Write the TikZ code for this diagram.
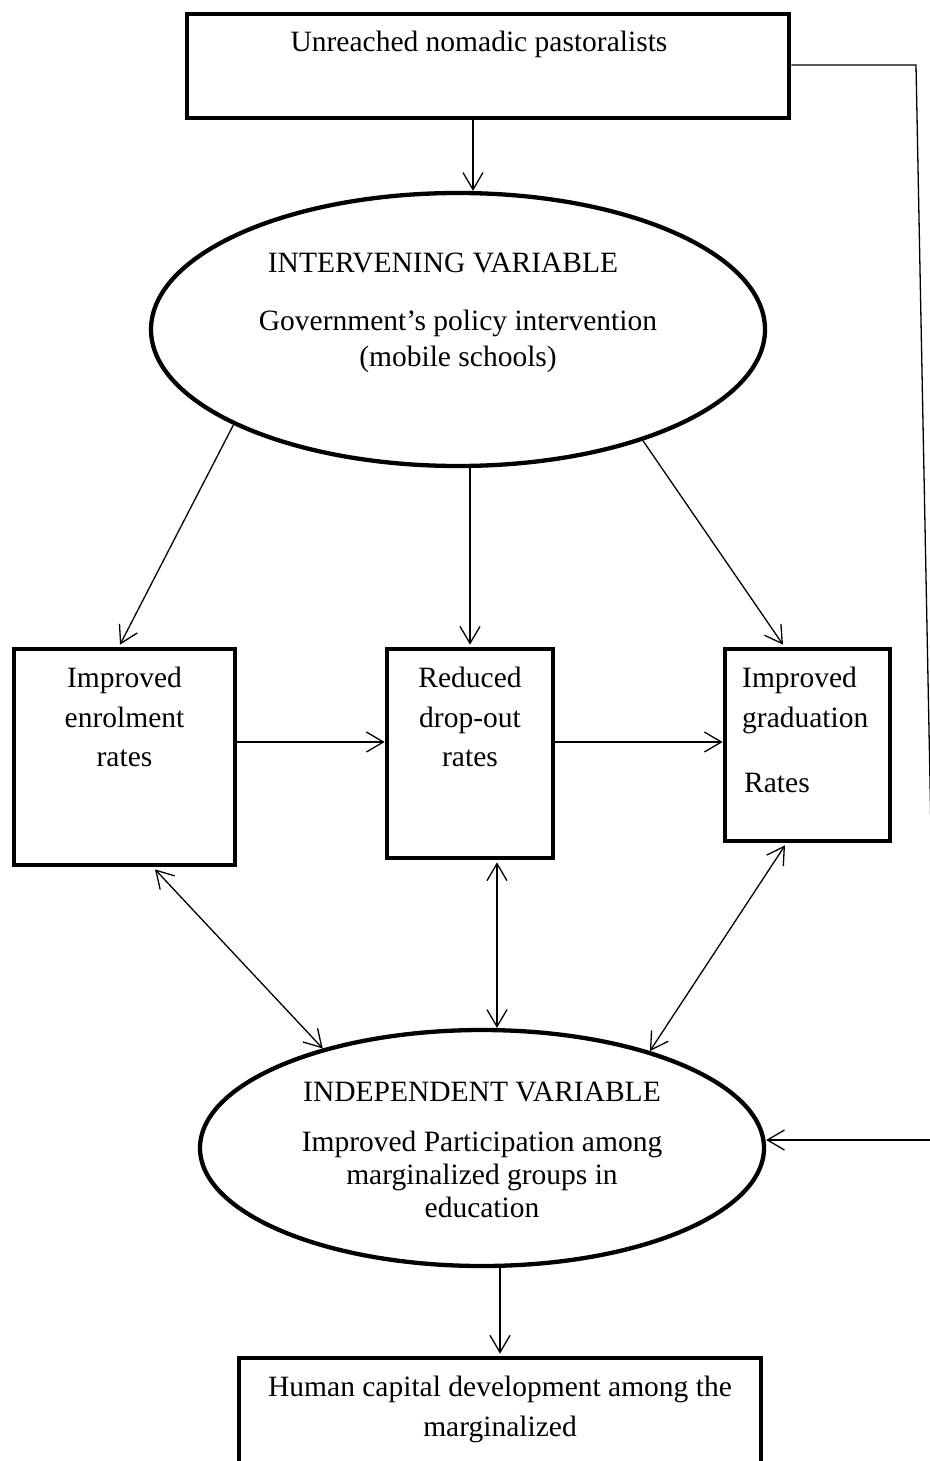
\documentclass[tikz,border=0pt]{standalone}
\usepackage{fontspec}
\setmainfont{Liberation Serif}
\usetikzlibrary{arrows.meta,shapes.geometric}
\begin{document}
\begin{tikzpicture}[x=1pt,y=-1pt,
  boxnode/.style={draw,line width=4.7pt,inner sep=0pt,rectangle},
  ellnode/.style={draw,line width=4.3pt,inner sep=0pt,ellipse},
  txt/.style={inner sep=0pt,anchor=base,font=\fontsize{29.5}{39}\selectfont},
  txtl/.style={txt,anchor=base west},
  arr/.style={line width=1.3pt,-{Straight Barb[length=17pt,width=20pt]}},
  darr/.style={line width=1.3pt,{Straight Barb[length=17pt,width=20pt]}-{Straight Barb[length=17pt,width=20pt]}},
  plain/.style={line width=1.3pt}]
\useasboundingbox (0,0) rectangle (929,1461);
% boxes and ellipses
\node[boxnode,minimum width=602pt,minimum height=104pt] (top) at (488,66) {};
\node[ellnode,minimum width=614pt,minimum height=273pt] (e1) at (458,329.5) {};
\node[boxnode,minimum width=221pt,minimum height=216pt] (b1) at (124.5,757) {};
\node[boxnode,minimum width=166pt,minimum height=209pt] (b2) at (470,753.5) {};
\node[boxnode,minimum width=165pt,minimum height=192pt] (b3) at (807.5,745) {};
\node[ellnode,minimum width=564pt,minimum height=236pt] (e2) at (482,1148) {};
\node[boxnode,minimum width=522pt,minimum height=122pt] (bot) at (500,1419) {};
% texts
\node[txt] (t0) at (479,52) {Unreached nomadic pastoralists};
\node[txt] (t1) at (443,272) {INTERVENING VARIABLE};
\node[txt] (t2) at (458,330) {Government’s policy intervention};
\node[txt] (t3) at (458,366) {(mobile schools)};
\node[txt] (t4) at (124.5,687) {Improved};
\node[txt] (t5) at (124.5,727) {enrolment};
\node[txt] (t6) at (124.5,766) {rates};
\node[txt] (t7) at (470,687) {Reduced};
\node[txt] (t8) at (470,727) {drop-out};
\node[txt] (t9) at (470,766) {rates};
\node[txtl] (t10) at (742,687) {Improved};
\node[txtl] (t11) at (742,727) {graduation};
\node[txtl] (t12) at (744,792) {Rates};
\node[txt] (t13) at (482,1101) {INDEPENDENT VARIABLE};
\node[txt] (t14) at (482,1151) {Improved Participation among};
\node[txt] (t15) at (482,1184) {marginalized groups in};
\node[txt] (t16) at (482,1217) {education};
\node[txt] (t17) at (500,1396) {Human capital development among the};
\node[txt] (t18) at (500,1436) {marginalized};
% connectors
\draw[arr] ([xshift=-15pt]top.south) -- ([xshift=15pt]e1.north);
\draw[arr] (e1.203) -- ([xshift=-4.5pt,yshift=2pt]b1.north);
\draw[arr] ([xshift=12pt]e1.south) -- ([yshift=2pt]b2.north);
\draw[arr] (e1.329) -- ([xshift=-24.5pt,yshift=2pt]b3.north);
\draw[arr] ([yshift=15pt]b1.east) -- ([yshift=15pt]b1.east -| b2.west);
\draw[arr] ([yshift=11.5pt]b2.east) -- ([yshift=11.5pt]b2.east -| b3.west);
\draw[darr] ([xshift=30.5pt,yshift=-2pt]b1.south) -- (e2.148);
\draw[darr] ([xshift=27pt,yshift=-2pt]b2.south) -- ([xshift=15pt]e2.north);
\draw[darr] ([xshift=-22.5pt,yshift=-2pt]b3.south) -- (e2.30);
\draw[arr] ([xshift=18pt]e2.south) -- ([yshift=2pt]bot.north);
\coordinate (r1) at (916,65);
\coordinate (r2) at (937,1140);
\draw[plain] ([yshift=1pt]top.east) -- (r1) -- (r2);
\draw[arr] (r2) -- (r2 -| e2.east);
\end{tikzpicture}
\end{document}
